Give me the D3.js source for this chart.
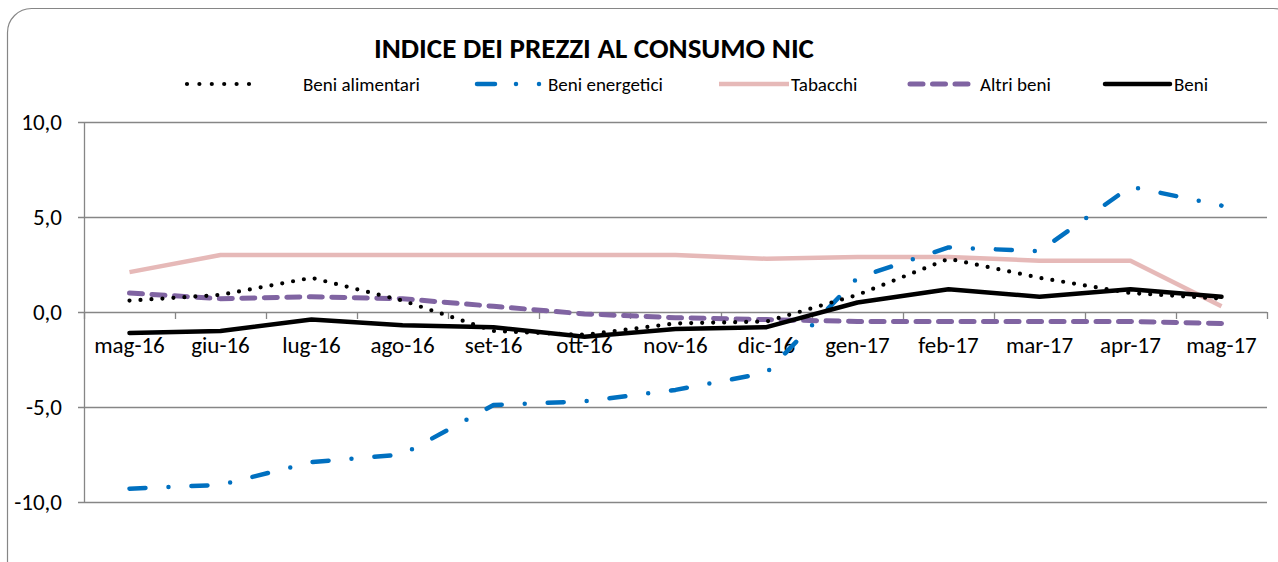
<!DOCTYPE html>
<html>
<head>
<meta charset="utf-8">
<script src="https://cdnjs.cloudflare.com/ajax/libs/d3/7.8.5/d3.min.js"></script>
<style>
  html, body { margin: 0; padding: 0; background: #fff; }
  svg { display: block; font-family: Carlito, Calibri, Lato, sans-serif; }
</style>
</head>
<body>
<div id="chart"></div>
<script>
// chart data
const categories = ['mag-16', 'giu-16', 'lug-16', 'ago-16', 'set-16', 'ott-16', 'nov-16',
  'dic-16', 'gen-17', 'feb-17', 'mar-17', 'apr-17', 'mag-17'];
const beniAlimentari = [0.6, 0.9, 1.8, 0.6, -1.0, -1.2, -0.6, -0.5, 0.9, 2.8, 1.8, 1.0, 0.7];
const beniEnergetici = [-9.3, -9.1, -7.9, -7.5, -4.9, -4.7, -4.1, -3.2, 1.8, 3.4, 3.2, 6.6, 5.6];
const tabacchi = [2.1, 3.0, 3.0, 3.0, 3.0, 3.0, 3.0, 2.8, 2.9, 2.9, 2.7, 2.7, 0.3];
const altriBeni = [1.0, 0.7, 0.8, 0.7, 0.3, -0.1, -0.3, -0.4, -0.5, -0.5, -0.5, -0.5, -0.6];
const beni = [-1.1, -1.0, -0.4, -0.7, -0.8, -1.3, -0.9, -0.8, 0.5, 1.2, 0.8, 1.2, 0.8];
const yTicks = [-10, -5, 0, 5, 10];

const W = 1278, H = 562;
const margin = { top: 122, right: 11, bottom: 60, left: 84 };

const series = [
  { name: 'Beni alimentari', values: beniAlimentari, color: '#000', width: 4.2, dash: '0 11', cap: 'round',
    legend: { x0: 187, x1: 250, tx: 303, dash: '0 12.4' } },
  { name: 'Beni energetici', values: beniEnergetici, color: '#0070C0', width: 4.5, dash: '16 23 0 23', cap: 'round',
    legend: { x0: 477, x1: 545, tx: 548, dash: '18 21 0 23 0 40' } },
  { name: 'Tabacchi', values: tabacchi, color: '#E6B9B8', width: 4.5, dash: null, cap: 'butt',
    legend: { x0: 719, x1: 789, tx: 791 } },
  { name: 'Altri beni', values: altriBeni, color: '#8064A2', width: 5, dash: '13 9.5', cap: 'round',
    legend: { x0: 910, x1: 968, tx: 980 } },
  { name: 'Beni', values: beni, color: '#000', width: 4.5, dash: null, cap: 'round',
    legend: { x0: 1105, x1: 1170, tx: 1174 } }
];

const svg = d3.select('#chart').append('svg')
  .attr('width', W)
  .attr('height', H);

// outer chart frame (runs past the right and bottom edges)
svg.append('rect')
  .attr('x', 7.5).attr('y', 8.5)
  .attr('width', 1290).attr('height', 580)
  .attr('rx', 24)
  .attr('fill', 'none')
  .attr('stroke', '#868686')
  .attr('stroke-width', 1.2);

const x = d3.scaleBand()
  .domain(categories)
  .range([margin.left, W - margin.right])
  .padding(0);

const y = d3.scaleLinear()
  .domain([-10, 10])
  .range([H - margin.bottom, margin.top]);

const gridColor = '#868686';

// horizontal gridlines + y labels
const yAxis = svg.append('g');
yAxis.selectAll('line')
  .data(yTicks)
  .enter()
  .append('line')
    .attr('x1', margin.left - 6)
    .attr('x2', W - margin.right)
    .attr('y1', d => Math.round(y(d)) + 0.5)
    .attr('y2', d => Math.round(y(d)) + 0.5)
    .attr('stroke', gridColor)
    .attr('stroke-width', 1.3);

yAxis.selectAll('text')
  .data(yTicks)
  .enter()
  .append('text')
    .attr('x', 62)
    .attr('y', d => y(d))
    .attr('dy', '0.35em')
    .attr('text-anchor', 'end')
    .attr('font-size', 23)
    .attr('fill', '#000')
    .text(d => d3.format('.1f')(d).replace('.', ',').replace('−', '-'));

// vertical axis line
svg.append('line')
  .attr('x1', margin.left + 0.5).attr('x2', margin.left + 0.5)
  .attr('y1', y(10)).attr('y2', y(-10))
  .attr('stroke', gridColor)
  .attr('stroke-width', 1.3);

// x ticks at band edges, hanging from the 0 line
const edges = categories.map(c => x(c)).concat([x.range()[1]]);
svg.append('g').selectAll('line')
  .data(edges)
  .enter()
  .append('line')
    .attr('x1', d => Math.round(d) + 0.5)
    .attr('x2', d => Math.round(d) + 0.5)
    .attr('y1', y(0))
    .attr('y2', y(0) + 7)
    .attr('stroke', gridColor)
    .attr('stroke-width', 1.3);

// x labels
svg.append('g').selectAll('text')
  .data(categories)
  .enter()
  .append('text')
    .attr('x', d => x(d) + x.bandwidth() / 2)
    .attr('y', y(0) + 41)
    .attr('text-anchor', 'middle')
    .attr('font-size', 23)
    .attr('fill', '#000')
    .text(d => d);

// series lines
const line = d3.line()
  .x((d, i) => x(categories[i]) + x.bandwidth() / 2)
  .y(d => y(d));

const drawOrder = ['Tabacchi', 'Altri beni', 'Beni energetici', 'Beni alimentari', 'Beni'];
drawOrder.forEach(nm => {
  const s = series.find(t => t.name === nm);
  svg.append('path')
    .datum(s.values)
    .attr('d', line)
    .attr('fill', 'none')
    .attr('stroke', s.color)
    .attr('stroke-width', s.width)
    .attr('stroke-linecap', s.cap)
    .attr('stroke-linejoin', 'round')
    .attr('stroke-dasharray', s.dash);
});

// title
svg.append('text')
  .attr('x', 594)
  .attr('y', 58)
  .attr('text-anchor', 'middle')
  .attr('font-size', 29)
  .attr('font-weight', 'bold')
  .attr('fill', '#000')
  .text('INDICE DEI PREZZI AL CONSUMO NIC');

// legend
const legendY = 84;
const lg = svg.append('g');
series.forEach(s => {
  lg.append('line')
    .attr('x1', s.legend.x0).attr('x2', s.legend.x1)
    .attr('y1', legendY).attr('y2', legendY)
    .attr('stroke', s.color)
    .attr('stroke-width', s.width)
    .attr('stroke-linecap', s.cap)
    .attr('stroke-dasharray', s.legend.dash || s.dash);
  lg.append('text')
    .attr('x', s.legend.tx)
    .attr('y', legendY)
    .attr('dy', '0.35em')
    .attr('font-size', 19)
    .attr('fill', '#000')
    .text(s.name);
});
</script>
</body>
</html>
